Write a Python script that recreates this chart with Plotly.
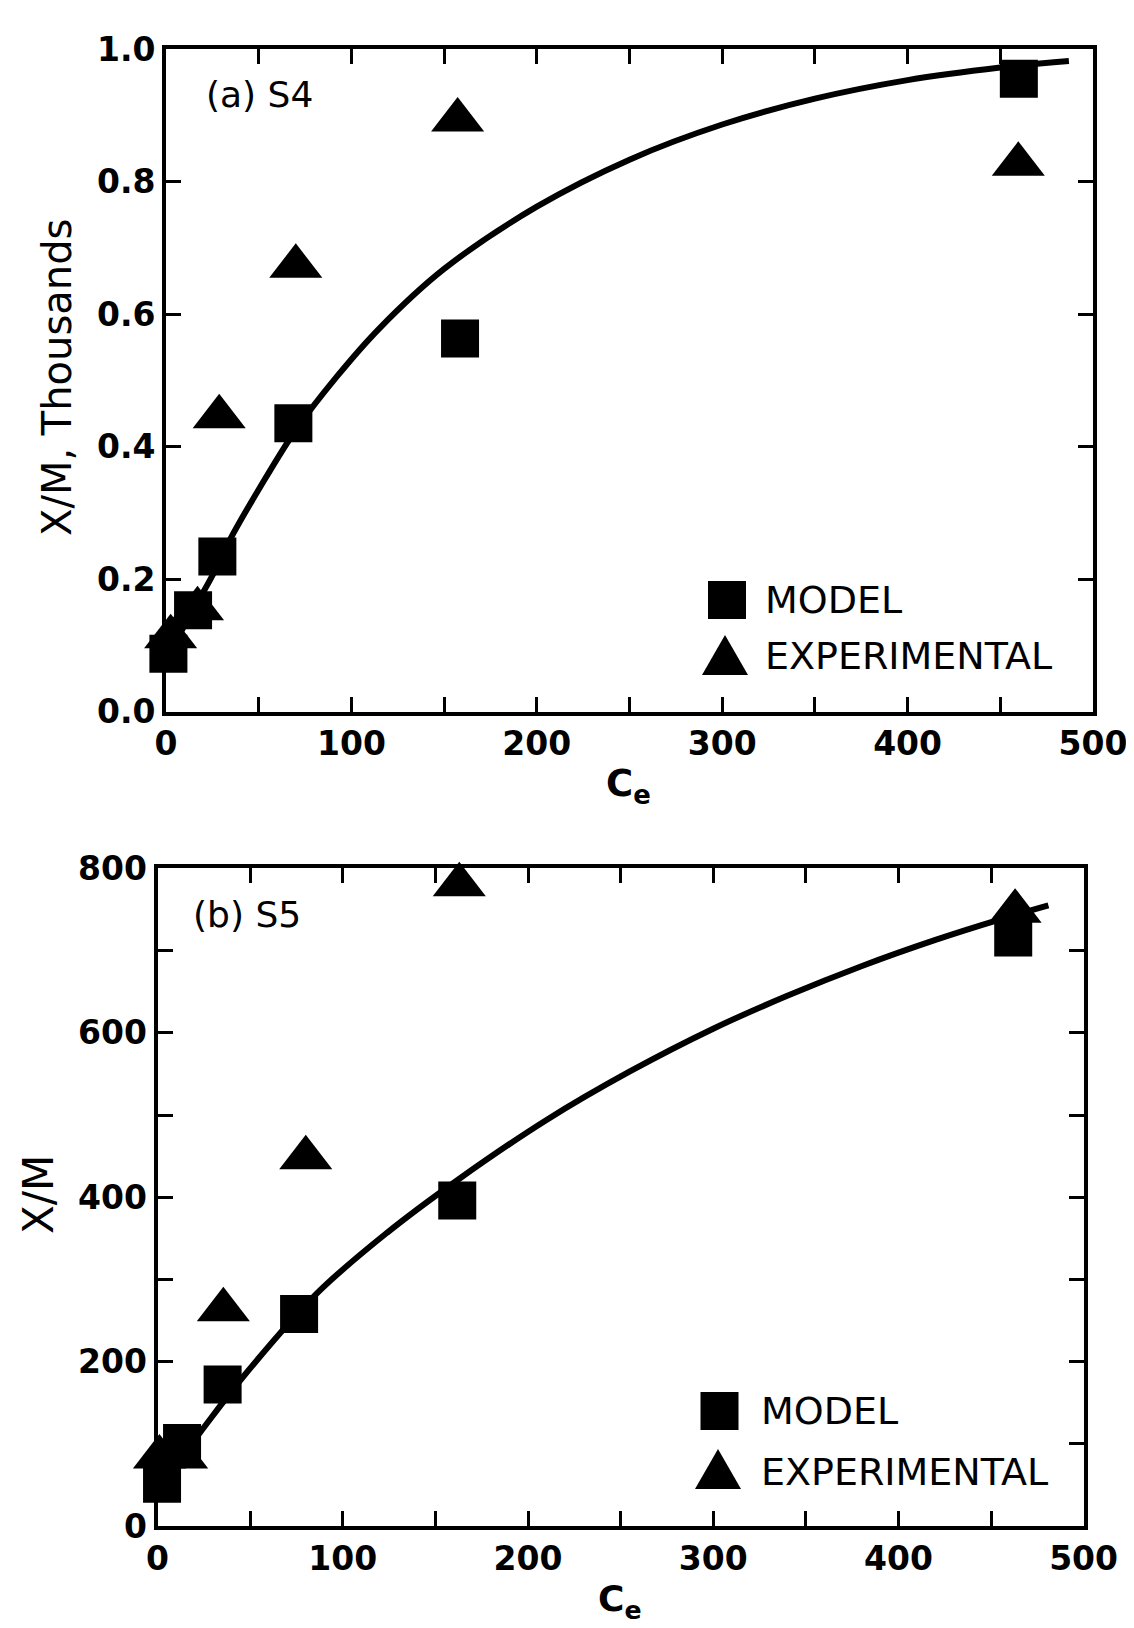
import plotly.graph_objects as go

PAGE_W, PAGE_H = 1134, 1628
OFF = 8  # default page margin that the browser puts around the figure
W, H = PAGE_W - OFF, PAGE_H - OFF

# ---------------- data ----------------
# Panel (a) S4  (y in thousands)
a_model_x = [1.3, 14.6, 27.7, 68.7, 158.6, 460]
a_model_y = [0.087, 0.153, 0.234, 0.435, 0.563, 0.955]
a_exp_x = [2.5, 17, 28.7, 70, 157.3, 459.7]
a_exp_y = [0.113, 0.155, 0.445, 0.672, 0.893, 0.826]
a_curve_x = [0, 15, 25, 35, 50, 70, 92, 115, 150, 200, 250, 300, 350, 400, 450, 487]
a_curve_y = [0.080, 0.155, 0.205, 0.262, 0.335, 0.425, 0.505, 0.578, 0.668, 0.762,
             0.833, 0.886, 0.925, 0.953, 0.972, 0.982]

# Panel (b) S5
b_model_x = [2.4, 13.2, 35.1, 76.4, 161.8, 462]
b_model_y = [51.5, 101, 172, 258, 396, 716]
b_exp_x = [1, 13, 35.5, 80, 162.9, 463]
b_exp_y = [84, 84, 263, 448, 780, 748]
b_curve_x = [0, 13, 23, 46, 86, 124, 162, 210, 255, 300, 340, 380, 420, 455, 481]
b_curve_y = [45, 85, 114, 181, 283, 357, 421, 494, 553, 605, 645, 681, 713, 738, 755]

x_ticks = [0, 100, 200, 300, 400, 500]
x_ticktext = ["0", "100", "200", "300", "400", "500"]
a_y_ticks = [0, 0.2, 0.4, 0.6, 0.8, 1.0]
a_y_ticktext = ["0.0", "0.2", "0.4", "0.6", "0.8", "1.0"]
b_y_ticks = [0, 200, 400, 600, 800]
b_y_ticktext = ["0", "200", "400", "600", "800"]

legend_labels = ["MODEL", "EXPERIMENTAL"]

# ---------------- styling ----------------
FONT = "DejaVu Sans"
SQ = 38
TRI = 46
LW = 6


def px_x(x):
    return (x - OFF) / W


def px_y(y):
    return 1 - (y - OFF) / H


fig = go.Figure()

# panel a
fig.add_trace(go.Scatter(x=a_curve_x, y=a_curve_y, mode="lines", line=dict(color="black", width=LW, shape="spline"),
                         xaxis="x", yaxis="y", cliponaxis=False, showlegend=False))
fig.add_trace(go.Scatter(x=a_model_x, y=a_model_y, mode="markers",
                         marker=dict(symbol="square", size=SQ, color="black", opacity=1),
                         xaxis="x", yaxis="y", cliponaxis=False, showlegend=False))
fig.add_trace(go.Scatter(x=a_exp_x, y=a_exp_y, mode="markers",
                         marker=dict(symbol="triangle-up", size=TRI, color="black", opacity=1),
                         xaxis="x", yaxis="y", cliponaxis=False, showlegend=False))
# panel b
fig.add_trace(go.Scatter(x=b_curve_x, y=b_curve_y, mode="lines", line=dict(color="black", width=LW, shape="spline"),
                         xaxis="x2", yaxis="y2", cliponaxis=False, showlegend=False))
fig.add_trace(go.Scatter(x=b_model_x, y=b_model_y, mode="markers",
                         marker=dict(symbol="square", size=SQ, color="black", opacity=1),
                         xaxis="x2", yaxis="y2", cliponaxis=False, showlegend=False))
fig.add_trace(go.Scatter(x=b_exp_x, y=b_exp_y, mode="markers",
                         marker=dict(symbol="triangle-up", size=TRI, color="black", opacity=1),
                         xaxis="x2", yaxis="y2", cliponaxis=False, showlegend=False))

tickfont = dict(family=FONT, size=33, color="black", weight="bold")
common = dict(showline=True, linewidth=4, linecolor="black", mirror="ticks", ticks="inside",
              ticklen=15, tickwidth=3, tickcolor="black", showgrid=False, zeroline=False,
              tickfont=tickfont, layer="below traces", fixedrange=True, automargin=False)
minor_x = dict(dtick=50, tick0=0, ticks="inside", ticklen=15, tickwidth=3, tickcolor="black", showgrid=False)
minor_yb = dict(dtick=100, tick0=0, ticks="inside", ticklen=15, tickwidth=3, tickcolor="black", showgrid=False)

fig.update_layout(
    width=W, height=H, autosize=False,
    margin=dict(l=0, r=0, t=0, b=0, pad=0, autoexpand=False),
    paper_bgcolor="white", plot_bgcolor="white",
    showlegend=False,
    xaxis=dict(domain=[px_x(166), px_x(1093)], range=[0, 500], anchor="y", tickmode="array",
               tickvals=x_ticks, ticktext=x_ticktext, minor=minor_x, **common),
    yaxis=dict(domain=[px_y(711.5), px_y(49)], range=[0, 1.0], anchor="x", tickmode="array",
               tickvals=a_y_ticks, ticktext=a_y_ticktext, **common),
    xaxis2=dict(domain=[px_x(157.6), px_x(1083.6)], range=[0, 500], anchor="y2", tickmode="array",
                tickvals=x_ticks, ticktext=x_ticktext, minor=minor_x, **common),
    yaxis2=dict(domain=[px_y(1526), px_y(868.4)], range=[0, 800], anchor="x2", tickmode="array",
                tickvals=b_y_ticks, ticktext=b_y_ticktext, minor=minor_yb, **common),
)

# legend keys (layout decorations, pixel positions of their centres)
shapes = []


def key_square(cx, cy, s=SQ):
    shapes.append(dict(type="rect", xref="paper", yref="paper",
                       x0=px_x(cx - s / 2), x1=px_x(cx + s / 2), y0=px_y(cy + s / 2), y1=px_y(cy - s / 2),
                       fillcolor="black", line=dict(width=0)))


def key_triangle(cx, top, w=46, h=40):
    p = (f"M {px_x(cx - w / 2)},{px_y(top + h)} L {px_x(cx + w / 2)},{px_y(top + h)} "
         f"L {px_x(cx)},{px_y(top)} Z")
    shapes.append(dict(type="path", xref="paper", yref="paper", path=p,
                       fillcolor="black", line=dict(width=0)))


key_square(727, 600)
key_triangle(725, 635)
key_square(719.5, 1411)
key_triangle(718, 1449)

ann = []


def text(s, x, y, size, xanchor="center", yanchor="middle", angle=0, bold=False):
    ann.append(dict(text=(f"<b>{s}</b>" if bold else s), x=px_x(x), y=px_y(y), xref="paper", yref="paper",
                    showarrow=False, xanchor=xanchor, yanchor=yanchor, textangle=angle,
                    font=dict(family=FONT, size=size, color="black")))


# panel labels
text("(a) S4", 204, 94, 36, xanchor="left")
text("(b) S5", 191, 914, 36, xanchor="left")
# axis titles
text("X/M, Thousands", 57, 378, 40, angle=-90)
text("X/M", 38, 1194, 42, angle=-90)
text("C<sub>e</sub>", 628, 786, 37, bold=True)
text("C<sub>e</sub>", 620, 1601, 36, bold=True)
# legend labels
text(legend_labels[0], 763, 600, 38, xanchor="left")
text(legend_labels[1], 763, 656, 38, xanchor="left")
text(legend_labels[0], 759, 1411, 38, xanchor="left")
text(legend_labels[1], 759, 1472, 38, xanchor="left")

fig.update_layout(annotations=ann, shapes=shapes)
fig.write_html("out.html")
